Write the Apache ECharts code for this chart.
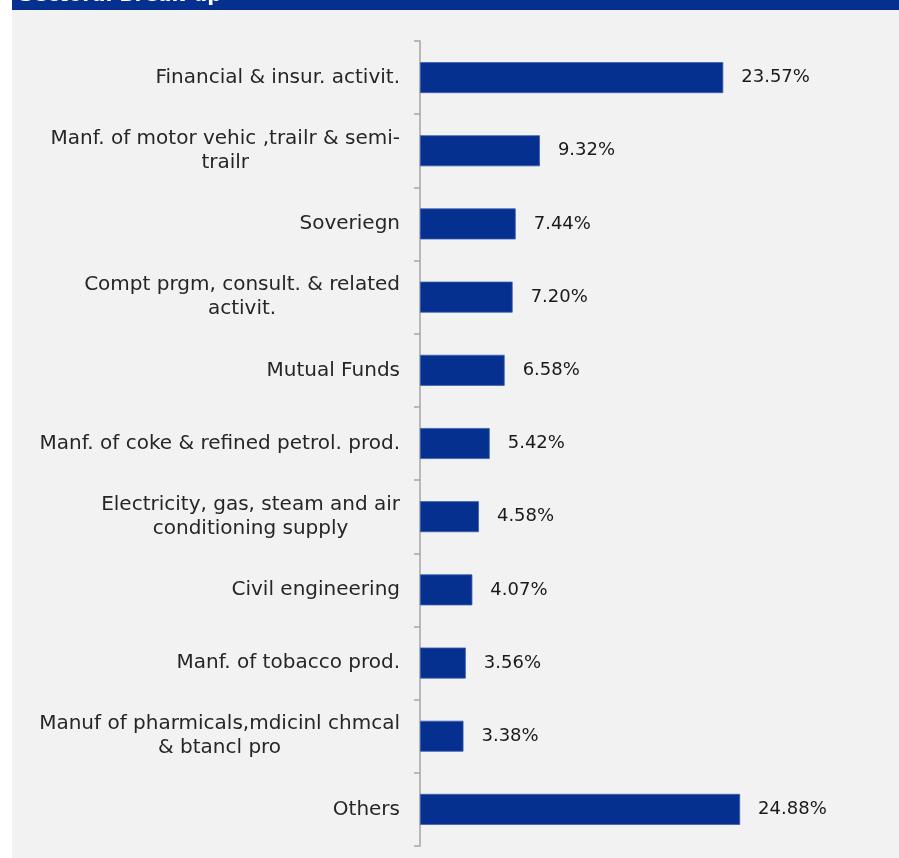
<!DOCTYPE html>
<html>
<head>
<meta charset="utf-8">
<script src="https://cdn.jsdelivr.net/npm/echarts@6/dist/echarts.min.js"></script>
<style>
  html, body { margin: 0; padding: 0; background: #ffffff; }
  #chart { position: absolute; left: 12px; top: 0; width: 887px; height: 858px; background: #f2f2f2; }
</style>
</head>
<body>
<div id="chart"></div>
<script>
// Sectoral break-up of holdings, share of portfolio (%)
const sectors = [
  'Financial & insur. activit.',
  'Manf. of motor vehic ,trailr & semi-\ntrailr',
  'Soveriegn',
  'Compt prgm, consult. & related\nactivit.',
  'Mutual Funds',
  'Manf. of coke & refined petrol. prod.',
  'Electricity, gas, steam and air\nconditioning supply',
  'Civil engineering',
  'Manf. of tobacco prod.',
  'Manuf of pharmicals,mdicinl chmcal\n& btancl pro',
  'Others'
];
const shares = [23.57, 9.32, 7.44, 7.20, 6.58, 5.42, 4.58, 4.07, 3.56, 3.38, 24.88];
const title = 'Sectoral Break-up';

const FONT = 'DejaVu Sans';
const chart = echarts.init(document.getElementById('chart'));

chart.setOption({
  backgroundColor: '#f2f2f2',
  animation: false,
  graphic: [
    // header band across the top of the panel; its title sits mostly above the page edge
    { type: 'rect', z: 10, shape: { x: 0, y: 0, width: 887, height: 10 }, style: { fill: '#06308f' } },
    { type: 'text', z: 11, x: 7, y: 6, style: { text: title, fill: '#ffffff', font: 'bold 20px ' + FONT, verticalAlign: 'bottom', align: 'left' } }
  ],
  grid: { left: 408, right: 93, top: 41, bottom: 12, containLabel: false },
  xAxis: {
    type: 'value',
    min: 0,
    max: 30,
    show: false
  },
  yAxis: {
    type: 'category',
    data: sectors,
    inverse: true,
    axisLine: { show: true, lineStyle: { color: '#a6a6a6', width: 1.5 } },
    axisTick: { show: true, inside: false, length: 6, lineStyle: { color: '#a6a6a6', width: 1.5 } },
    axisLabel: {
      margin: 20,
      align: 'right',
      formatter: v => v.split('\n').map(l => '{c|' + l + '}').join('\n'),
      rich: {
        c: { align: 'center', fontFamily: FONT, fontSize: 20, lineHeight: 24, color: '#262626' }
      }
    },
    splitLine: { show: false }
  },
  series: [{
    type: 'bar',
    data: shares,
    barWidth: 31,
    itemStyle: { color: '#06308f', borderColor: '#3c5fae', borderWidth: 0.8 },
    label: {
      show: true,
      position: 'right',
      distance: 18,
      formatter: p => p.value.toFixed(2) + '%',
      fontFamily: FONT,
      fontSize: 18,
      color: '#1a1a1a'
    }
  }]
});
</script>
</body>
</html>
